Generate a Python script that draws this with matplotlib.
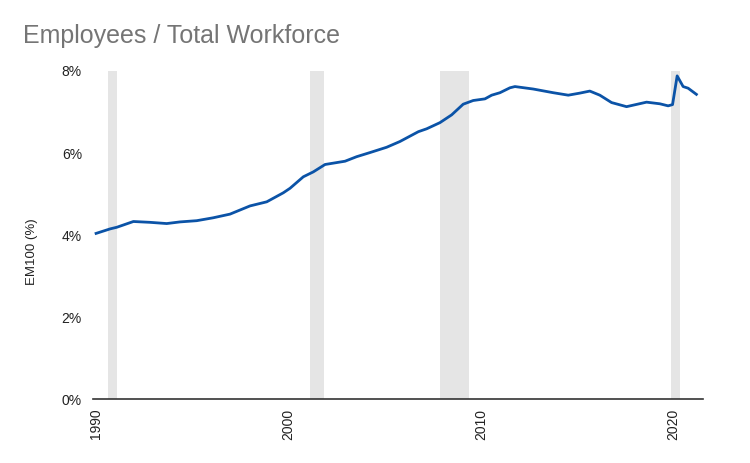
import matplotlib
matplotlib.use("Agg")
import matplotlib.pyplot as plt

plt.rcParams['font.family'] = ['Liberation Sans', 'DejaVu Sans']

years = [1990.0, 1990.73, 1991.08, 1991.94, 1992.8, 1993.67, 1994.36, 1995.23,
         1996.08, 1996.96, 1998.0, 1998.87, 1999.73, 2000.08, 2000.77, 2001.29,
         2001.9, 2002.94, 2003.54, 2004.23, 2005.1, 2005.79, 2006.75, 2007.18,
         2007.87, 2008.48, 2009.08, 2009.6, 2010.21, 2010.56, 2010.99, 2011.51,
         2011.77, 2012.72, 2013.76, 2014.54, 2015.14, 2015.66, 2016.18, 2016.79,
         2017.57, 2018.61, 2019.3, 2019.73, 2019.96, 2020.2, 2020.51, 2020.77,
         2021.2]
values = [4.04, 4.15, 4.19, 4.33, 4.31, 4.28, 4.32, 4.35,
          4.42, 4.51, 4.71, 4.81, 5.03, 5.14, 5.42, 5.54,
          5.72, 5.80, 5.91, 6.01, 6.14, 6.28, 6.52, 6.59,
          6.74, 6.93, 7.19, 7.28, 7.32, 7.41, 7.47, 7.59,
          7.62, 7.56, 7.47, 7.41, 7.46, 7.51, 7.41, 7.23,
          7.13, 7.24, 7.20, 7.15, 7.18, 7.88, 7.62, 7.58,
          7.43]

recession_start = [1990.62, 2001.12, 2007.87, 2019.9]
recession_end = [1991.09, 2001.84, 2009.38, 2020.34]

y_ticks = [0, 2, 4, 6, 8]
y_tick_labels = ["0%", "2%", "4%", "6%", "8%"]
x_ticks = [1990, 2000, 2010, 2020]
x_tick_labels = ["1990", "2000", "2010", "2020"]

title = "Employees / Total Workforce"
y_label = "EM100 (%)"

fig = plt.figure(figsize=(7.5, 4.63), dpi=100)
ax = fig.add_axes([0.124, 0.138, 0.813, 0.7087])

for s, e in zip(recession_start, recession_end):
    ax.axvspan(s, e, ymin=0, ymax=1, color='#e5e5e5', lw=0, zorder=1)

ax.plot(years, values, color='#0b53a7', lw=2.0, zorder=3, solid_joinstyle='round')

ax.set_xlim(1989.84, 2021.53)
ax.set_ylim(0, 8)
ax.set_yticks(y_ticks)
ax.set_yticklabels(y_tick_labels)
ax.set_xticks(x_ticks)
ax.set_xticklabels(x_tick_labels, rotation=90)
ax.tick_params(axis='both', length=0, labelsize=10, colors='#222222')
ax.tick_params(axis='y', pad=8)
ax.tick_params(axis='x', pad=7)

for side in ['top', 'right', 'left']:
    ax.spines[side].set_visible(False)
ax.spines['bottom'].set_color('#333333')
ax.spines['bottom'].set_linewidth(1.2)
ax.spines['bottom'].set_zorder(4)

ax.set_ylabel(y_label, fontsize=9.5, color='#222222')
ax.yaxis.set_label_coords(-0.09, 0.45)

fig.text(23 / 750, 1 - 43 / 463, title, fontsize=18, color='#757575', ha='left', va='baseline')

fig.savefig("out.png", dpi=100)
